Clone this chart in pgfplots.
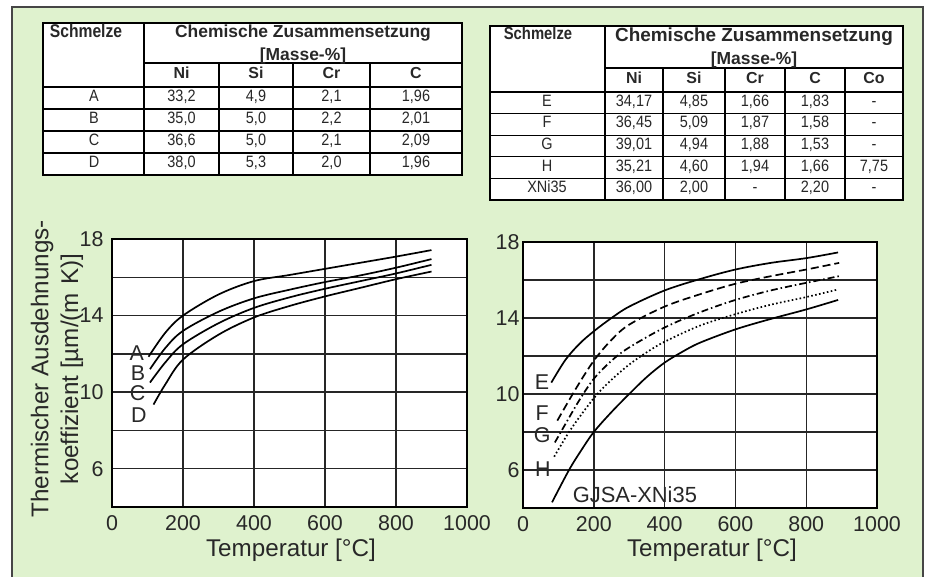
\documentclass[border=0pt]{standalone}
\usepackage{pgfplots}
\pgfplotsset{compat=1.18}
\usepackage{fontspec}
\setmainfont{Liberation Sans}
\newfontfamily\narrowfont[FakeStretch=0.88]{Liberation Sans}
\newfontfamily\headfont[FakeStretch=0.85]{Liberation Sans Bold}

\definecolor{panelbg}{RGB}{223,242,206}
\definecolor{panelframe}{RGB}{70,70,70}
\definecolor{ink}{RGB}{40,40,40}

\newcommand\fTick{\fontsize{21.5}{21.5}\selectfont}
\newcommand\fLabel{\fontsize{24.3}{30}\selectfont}
\newcommand\fHead{\fontsize{17.5}{18}\selectfont\bfseries}
\newcommand\fHeadR{\fontsize{19}{20}\selectfont\bfseries}
\newcommand\fMelt{\headfont\fontsize{18.5}{18}\selectfont}
\newcommand\fMeltR{\headfont\fontsize{17.5}{18}\selectfont}
\newcommand\fSub{\fontsize{16}{16}\selectfont\bfseries}
\newcommand\fCell{\narrowfont\fontsize{16.5}{16}\selectfont}

\tikzset{
  tbl/.style={inner sep=0pt, text height=0.72em, text depth=0pt, anchor=center, text=ink},
  celab/.style={font=\fTick, text=ink, inner sep=0pt},
}

% one data row of the left table: y, melt, Ni, Si, Cr, C
\newcommand\rowL[6]{%
  \node[tbl,font=\fCell] at (94,#1) {#2};
  \node[tbl,font=\fCell] at (181.5,#1) {#3};
  \node[tbl,font=\fCell] at (256,#1) {#4};
  \node[tbl,font=\fCell] at (331.5,#1) {#5};
  \node[tbl,font=\fCell] at (416,#1) {#6};}
% one data row of the right table: y, melt, Ni, Si, Cr, C, Co
\newcommand\rowR[7]{%
  \node[tbl,font=\fCell] at (547,#1) {#2};
  \node[tbl,font=\fCell] at (634,#1) {#3};
  \node[tbl,font=\fCell] at (694,#1) {#4};
  \node[tbl,font=\fCell] at (755,#1) {#5};
  \node[tbl,font=\fCell] at (815,#1) {#6};
  \node[tbl,font=\fCell] at (874,#1) {#7};}

\pgfplotsset{
  teaxis/.style={
    scale only axis,
    xmin=0, xmax=1000, ymin=4, ymax=18,
    xtick={0,200,...,1000}, ytick={6,10,14,18}, minor ytick={8,12,16},
    grid=both,
    major grid style={black!85, line width=1.4bp},
    minor grid style={black!85, line width=1.4bp},
    axis line style={black, line width=1.8bp},
    axis background/.style={fill=white},
    tick style={draw=none},
    /pgf/number format/assume math mode=true,
    /pgf/number format/1000 sep={},
    ticklabel style={font=\fTick, text=ink},
    xticklabel style={yshift=-5bp},
    clip=false,
  },
  tecurve/.style={black, line width=1.7bp, smooth, tension=0.55, mark=none},
}

\begin{document}
\begin{tikzpicture}
\begin{scope}[x=1bp, y=1bp]
\path[use as bounding box] (0,0) rectangle (931,577);
\fill[white] (0,0) rectangle (931,577);
\fill[panelbg] (12,0) rectangle (923,570);
\draw[panelframe, line width=2.5bp] (12,0) -- (12,570) -- (923,570) -- (923,0);

% ---- composition table, melts A-D ----
\fill[white] (43,402) rectangle (462,554);
\draw[line width=1.8bp] (43,490) -- (462,490);
\foreach \y in {468,446,424} \draw[line width=1.1bp] (43,\y) -- (462,\y);
\draw[line width=1.2bp] (144,514) -- (462,514);
\draw[line width=1.3bp] (144,402) -- (144,554);
\foreach \x in {219,293,370} \draw[line width=1.1bp] (\x,402) -- (\x,514);
\draw[line width=2.4bp] (43,402) rectangle (462,554);
\node[tbl,font=\fMelt] at (86,543) {Schmelze};
\node[tbl,font=\fHead] at (303,543) {Chemische Zusammensetzung};
\node[tbl,font=\fHead] at (303,520) {[Masse-\%]};
\node[tbl,font=\fSub] at (181.5,502) {Ni};
\node[tbl,font=\fSub] at (256,502) {Si};
\node[tbl,font=\fSub] at (331.5,502) {Cr};
\node[tbl,font=\fSub] at (416,502) {C};
\rowL{479}{A}{33,2}{4,9}{2,1}{1,96}
\rowL{457}{B}{35,0}{5,0}{2,2}{2,01}
\rowL{435}{C}{36,6}{5,0}{2,1}{2,09}
\rowL{413}{D}{38,0}{5,3}{2,0}{1,96}

% ---- composition table, melts E-H and XNi35 ----
\fill[white] (490,377) rectangle (903,551);
\draw[line width=1.8bp] (490,485) -- (903,485);
\foreach \y in {463.4,441.8,420.2,398.6} \draw[line width=1.1bp] (490,\y) -- (903,\y);
\draw[line width=1.2bp] (605,509) -- (903,509);
\draw[line width=1.3bp] (605,377) -- (605,551);
\foreach \x in {663,725,785,845} \draw[line width=1.1bp] (\x,377) -- (\x,509);
\draw[line width=2.4bp] (490,377) rectangle (903,551);
\node[tbl,font=\fMeltR] at (538,541) {Schmelze};
\node[tbl,font=\fHeadR] at (754,539) {Chemische Zusammensetzung};
\node[tbl,font=\fHead] at (754,516) {[Masse-\%]};
\node[tbl,font=\fSub] at (634,497) {Ni};
\node[tbl,font=\fSub] at (694,497) {Si};
\node[tbl,font=\fSub] at (755,497) {Cr};
\node[tbl,font=\fSub] at (815,497) {C};
\node[tbl,font=\fSub] at (874,497) {Co};
\rowR{474.2}{E}{34,17}{4,85}{1,66}{1,83}{-}
\rowR{452.6}{F}{36,45}{5,09}{1,87}{1,58}{-}
\rowR{431.0}{G}{39,01}{4,94}{1,88}{1,53}{-}
\rowR{409.4}{H}{35,21}{4,60}{1,94}{1,66}{7,75}
\rowR{387.8}{XNi35}{36,00}{2,00}{-}{2,20}{-}

% ---- axis titles ----
\node[rotate=90, align=center, font=\fLabel, text=ink, inner sep=0pt] at (57,208)
  {Thermischer Ausdehnungs-\\koeffizient [µm/(m\,\,K)]};
\node[tbl, font=\fLabel] at (291,24) {Temperatur [°C]};
\node[tbl, font=\fLabel] at (712,24) {Temperatur [°C]};
\end{scope}

% ---- expansion coefficient, melts A-D ----
\begin{axis}[teaxis, at={(112bp,70bp)}, anchor=south west, width=355bp, height=268bp,
  yticklabel style={xshift=-5bp}]
\addplot[tecurve] coordinates {(103,11.85)(150,13.1)(200,14.0)(300,15.1)(400,15.8)(500,16.12)(600,16.44)(700,16.76)(800,17.08)(900,17.42)};
\addplot[tecurve] coordinates {(107,11.2)(150,12.3)(200,13.2)(300,14.2)(400,14.9)(500,15.35)(600,15.75)(700,16.1)(800,16.5)(900,16.95)};
\addplot[tecurve] coordinates {(107,10.5)(150,11.55)(200,12.5)(300,13.6)(400,14.4)(500,14.95)(600,15.4)(700,15.8)(800,16.2)(900,16.65)};
\addplot[tecurve] coordinates {(117,9.35)(150,10.4)(200,11.7)(300,13.0)(400,13.9)(500,14.5)(600,15.0)(700,15.45)(800,15.9)(900,16.3)};
\node[celab] at (axis cs:70,12.05) {A};
\node[celab] at (axis cs:73,11.0) {B};
\node[celab] at (axis cs:72,9.95) {C};
\node[celab] at (axis cs:76,8.8) {D};
\end{axis}

% ---- expansion coefficient, melts E-H and GJSA-XNi35 ----
\begin{axis}[teaxis, at={(523bp,69bp)}, anchor=south west, width=354bp, height=266bp]
\addplot[tecurve] coordinates {(80,10.6)(120,11.8)(160,12.65)(200,13.3)(250,14.0)(300,14.6)(400,15.45)(500,16.05)(600,16.55)(700,16.9)(800,17.15)(890,17.45)};
\addplot[tecurve, dash pattern=on 8bp off 4bp] coordinates {(97,8.6)(150,10.3)(200,11.75)(250,12.85)(300,13.65)(400,14.6)(500,15.25)(600,15.8)(700,16.2)(800,16.55)(893,16.9)};
\addplot[tecurve, dash pattern=on 7bp off 3bp on 1.5bp off 3bp] coordinates {(90,7.45)(130,8.75)(160,9.7)(200,10.8)(250,11.75)(300,12.45)(400,13.5)(500,14.3)(600,14.95)(700,15.45)(800,15.85)(893,16.2)};
\addplot[tecurve, dash pattern=on 1.6bp off 2.4bp] coordinates {(88,6.7)(130,8.0)(170,9.05)(210,10.0)(250,10.75)(300,11.55)(350,12.2)(400,12.75)(500,13.6)(600,14.2)(700,14.7)(800,15.1)(890,15.5)};
\addplot[tecurve] coordinates {(82,4.3)(130,6.0)(165,7.05)(200,8.0)(250,9.05)(300,10.0)(350,10.9)(400,11.65)(450,12.22)(500,12.7)(600,13.4)(700,13.95)(800,14.45)(890,14.95)};
\node[celab] at (axis cs:54,10.63) {E};
\node[celab] at (axis cs:54,9.0) {F};
\node[celab] at (axis cs:54,7.85) {G};
\node[celab] at (axis cs:56,6.05) {H};
\node[celab, font=\fontsize{22}{22}\selectfont] at (axis cs:316,4.68) {GJSA-XNi35};
\end{axis}
\end{tikzpicture}
\end{document}
